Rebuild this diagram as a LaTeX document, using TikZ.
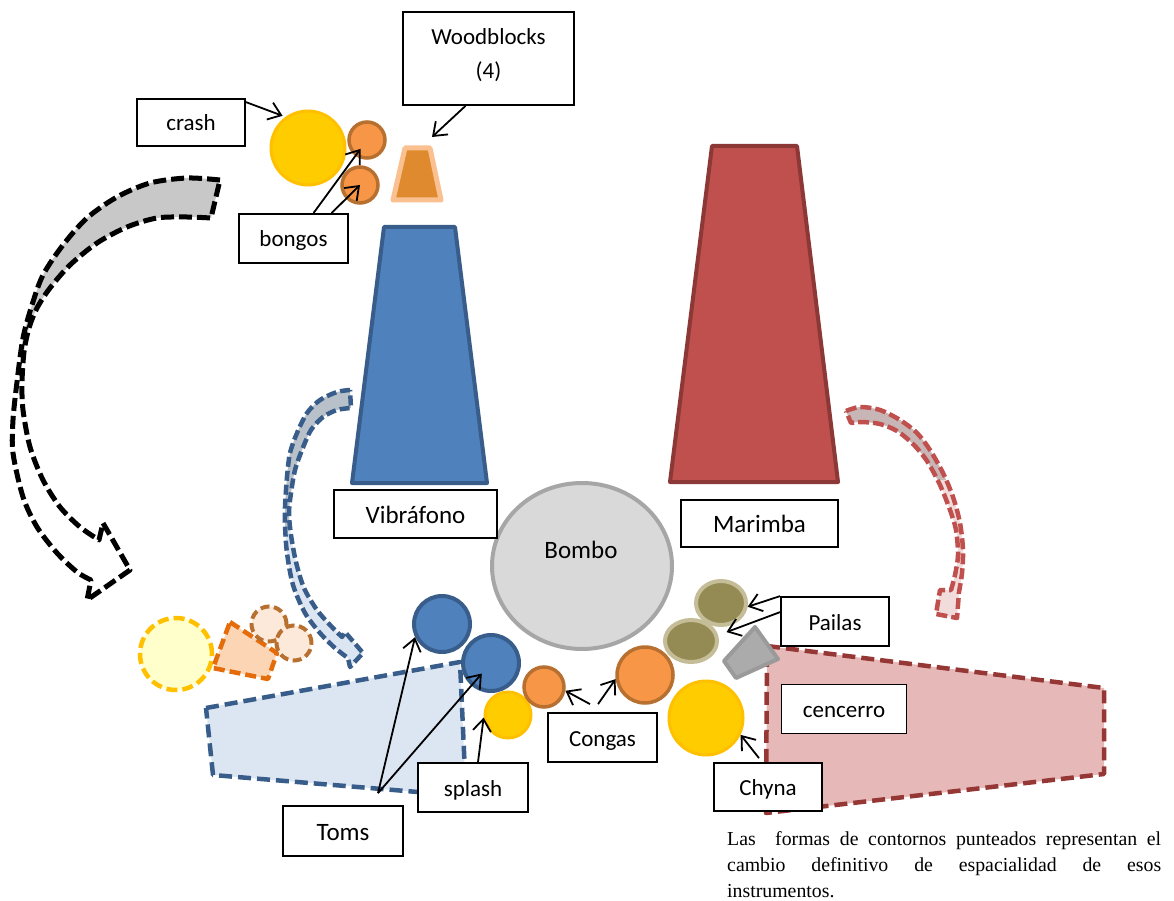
\documentclass[tikz,border=0pt]{standalone}
\usepackage{fontspec}
\setmainfont{Carlito}
\newfontfamily\notefont{Liberation Serif}
\usetikzlibrary{arrows.meta,calc,shapes.geometric}

\definecolor{gold}{HTML}{FFCC00}
\definecolor{goldline}{HTML}{FFC000}
\definecolor{orng}{HTML}{F79646}
\definecolor{orngline}{HTML}{B7702F}
\definecolor{woodfill}{HTML}{DF8A2E}
\definecolor{woodline}{HTML}{FAC090}
\definecolor{vibfill}{HTML}{4F81BD}
\definecolor{vibline}{HTML}{385D8A}
\definecolor{marfill}{HTML}{C0504D}
\definecolor{marline}{HTML}{8C3836}
\definecolor{bombofill}{HTML}{D9D9D9}
\definecolor{bomboline}{HTML}{A6A6A6}
\definecolor{pailafill}{HTML}{948A54}
\definecolor{pailaline}{HTML}{C4BD97}
\definecolor{bellfill}{HTML}{ABABAB}
\definecolor{bellline}{HTML}{9A9A9A}
\definecolor{pinkfill}{HTML}{E6B9B8}
\definecolor{pinkline}{HTML}{953735}
\definecolor{bluepale}{HTML}{DCE6F2}
\definecolor{yellowpale}{HTML}{FFFFCC}
\definecolor{peach}{HTML}{FCD5B5}
\definecolor{peachline}{HTML}{E46C0A}
\definecolor{bisque}{HTML}{FDE9D9}
\definecolor{sweepgray}{HTML}{C8C8C8}
\definecolor{bluegray}{HTML}{B8C0CA}
\definecolor{redgray}{HTML}{C8B6B6}
\definecolor{redpale}{HTML}{F2DCDB}

\newcommand\boxtextsize{\fontsize{23}{28}\selectfont}
\newcommand\bigtextsize{\fontsize{25}{30}\selectfont}

% outlines of the three curved "moved to" arrows
\def\sweepoutline{plot[smooth] coordinates {(220,180) (187,178) (150,183) (117,197) (87,218) (63,245) (43,275) (32,305) (23,338) (17,382) (13,420) (13,453) (23,497) (37,527) (57,553) (77,572) (91,580)} -- (87,600) -- (130,570) -- (103,523) -- (99,540) -- plot[smooth] coordinates {(99,540) (80,527) (60,507) (43,480) (30,447) (23,410) (22,383) (24,352) (29,328) (37,308) (50,288) (70,265) (97,243) (127,227) (157,218) (187,217) (211,218)} -- cycle}
\def\vibsweep{plot[smooth] coordinates {(350,390) (337,392) (320,400) (307,413) (297,433) (290,453) (287,477) (285,507) (285,525) (287,553) (293,585) (305,613) (320,633) (335,648) (348,658)} -- (350,667) -- (363,653) -- (345,632) -- (342,637) -- plot[smooth] coordinates {(342,637) (331,626) (317,610) (304,588) (296,562) (291,535) (289,513) (291,493) (295,470) (302,450) (311,430) (323,417) (337,410) (351,408)} -- cycle}
\def\marsweep{plot[smooth] coordinates {(846,411) (860,407) (880,410) (900,420) (917,433) (930,450) (943,473) (953,497) (960,523) (963,550) (962,573) (959,592)} -- (957,618) -- (936,614) -- (940,590) -- (951,590) -- plot[smooth] coordinates {(951,590) (955,575) (958,555) (956,530) (950,510) (940,485) (927,461) (913,444) (897,431) (880,424) (862,422) (851,423)} -- cycle}

\begin{document}
\begin{tikzpicture}[x=1pt,y=-1pt,
  lbl/.style={draw=black, line width=1.8pt, fill=white, inner sep=0pt,
    font=\boxtextsize, text height=17pt, text depth=0pt},
  biglbl/.style={lbl, font=\bigtextsize, text height=18pt},
  ptr/.style={line width=1.8pt, -{Straight Barb[length=12pt,width=18pt,line width=1.8pt]}},
  instr/.style={circle, inner sep=0pt, line width=3pt},
  goldcym/.style={instr, fill=gold, draw=goldline},
  drum/.style={instr, fill=orng, draw=orngline, line width=3.5pt},
  tom/.style={instr, fill=vibfill, draw=vibline, line width=4pt},
  paila/.style={ellipse, inner sep=0pt, fill=pailafill, draw=pailaline, line width=4pt},
  bar/.style={line width=4pt, line join=round},
  area/.style={line width=4.5pt, line join=round, dash pattern=on 13pt off 6pt},
  ghost/.style={line width=4.5pt, dash pattern=on 11pt off 5pt}
]
\useasboundingbox (0,0) rectangle (1174,901);

% new positions (dashed areas)
\draw[area, fill=bluepale, draw=vibline] (206,708) -- (460,662) -- (466,796) -- (213,775) -- cycle;
\draw[area, fill=pinkfill, draw=pinkline] (767,646) -- (1104,688) -- (1104,774) -- (766,813) -- cycle;

\node[circle, inner sep=0pt, minimum size=72pt, ghost, fill=yellowpale, draw=goldline] (crashnew) at (176,654) {};
\draw[ghost, fill=peach, draw=peachline, line join=round] (230,622) -- (277,653) -- (268,679) -- (213,668) -- cycle;
\node[circle, inner sep=0pt, minimum size=35pt, ghost, line width=4pt, dash pattern=on 9pt off 4.5pt, fill=bisque, draw=orngline] (bongonewA) at (269,624) {};
\node[circle, inner sep=0pt, minimum size=35pt, ghost, line width=4pt, dash pattern=on 9pt off 4.5pt, fill=bisque, draw=orngline] (bongonewB) at (294,643) {};

% curved arrows
\begin{scope}
  \clip (0,150) rectangle (240,350);
  \fill[sweepgray] \sweepoutline;
\end{scope}
\draw[line width=5pt, dash pattern=on 13pt off 5pt, line join=round] \sweepoutline;

\begin{scope}
  \clip (260,370) rectangle (380,530);
  \fill[bluegray] \vibsweep;
\end{scope}
\begin{scope}
  \clip (260,530) rectangle (380,690);
  \fill[bluepale] \vibsweep;
\end{scope}
\draw[line width=4.5pt, dash pattern=on 10pt off 4pt, draw=vibline, line join=round] \vibsweep;

\begin{scope}
  \clip (830,390) rectangle (990,480);
  \fill[redgray] \marsweep;
\end{scope}
\begin{scope}
  \clip (830,480) rectangle (990,640);
  \fill[redpale] \marsweep;
\end{scope}
\draw[line width=4.5pt, dash pattern=on 11pt off 4pt, draw=marfill, line join=round] \marsweep;

% keyboards and woodblocks
\draw[bar, fill=vibfill, draw=vibline] (384,227) -- (455,227) -- (487,483) -- (352,483) -- cycle;
\draw[bar, fill=marfill, draw=marline] (712,146) -- (797,146) -- (838,482) -- (670,482) -- cycle;
\draw[line width=5pt, line join=round, fill=woodfill, draw=woodline] (405,148) -- (430,148) -- (441,200) -- (393,200) -- cycle;
\coordinate (wbtip) at (432,137);

% instruments
\node[goldcym, minimum size=74pt] (crashc) at (308,148) {};
\node[drum, minimum size=36pt] (bongoA) at (367,140) {};
\node[drum, minimum size=36pt] (bongoB) at (360,185) {};

\node[ellipse, inner sep=0pt, minimum width=180pt, minimum height=166pt, fill=bombofill, draw=bomboline, line width=4pt] (bombo) at (582,566) {};
\node[font=\bigtextsize, anchor=base] (bombotext) at (581,558) {Bombo};

\node[tom, minimum size=56pt] (tom1) at (442,624) {};
\node[tom, minimum size=56pt] (tom2) at (491,663) {};
\node[goldcym, minimum size=46pt] (splashc) at (508,715) {};
\node[drum, minimum size=40pt] (congaA) at (544,687) {};
\node[drum, minimum size=56pt] (congaB) at (645,675) {};
\node[paila, minimum width=50pt, minimum height=44pt] (paila1) at (721,603) {};
\node[paila, minimum width=52pt, minimum height=42pt] (paila2) at (691,641) {};
\draw[line width=4pt, line join=round, fill=bellfill, draw=bellline] (724,661) -- (755,627) -- (778,659) -- (736,678) -- cycle;
\node[goldcym, minimum size=74pt] (chynac) at (706,718) {};

% labels
\node[lbl, minimum width=108pt, minimum height=47pt] (crashbox) at (191,122.5) {crash};
\node[lbl, minimum width=109pt, minimum height=49pt] (bongobox) at (293.5,238.5) {bongos};
\node[lbl, minimum width=171pt, minimum height=93pt] (woodbox) at (488.5,58.5) {};
\node[align=center, font=\fontsize{23}{34}\selectfont, inner sep=0pt] (woodtext) at (488.5,55.5) {Woodblocks\\(4)};
\node[biglbl, minimum width=163pt, minimum height=48pt] (vibbox) at (415.5,514) {Vibráfono};
\node[biglbl, minimum width=157pt, minimum height=47pt] (marbox) at (759.5,523.5) {Marimba};
\node[lbl, minimum width=108pt, minimum height=49pt] (pailasbox) at (835,621.5) {Pailas};
\node[lbl, minimum width=125pt, minimum height=49pt] (bellbox) at (844,709) {cencerro};
\node[lbl, minimum width=108pt, minimum height=48pt] (chynabox) at (768,787) {Chyna};
\node[lbl, minimum width=109pt, minimum height=49pt] (congasbox) at (602.5,737.5) {Congas};
\node[lbl, minimum width=110pt, minimum height=49pt] (splashbox) at (473,787.5) {splash};
\node[biglbl, minimum width=120pt, minimum height=50pt] (tomsbox) at (343,831) {Toms};

% pointers
\draw[ptr, shorten >=3pt] ([yshift=-4pt]crashbox.north east) -- (crashc.126);
\draw[ptr, shorten >=11pt] ([xshift=20pt]bongobox.north) -- (bongoA.center);
\draw[ptr] ([xshift=38pt]bongobox.north) -- (bongoB.center);
\draw[ptr] ([xshift=-23pt]woodbox.south) -- (wbtip);
\coordinate (tomsfork) at ([xshift=35pt,yshift=12pt]tomsbox.north);
\draw[ptr] (tomsfork) -- (tom1.206);
\draw[ptr, shorten >=14pt] (tomsfork) -- (tom2.center);
\draw[ptr] ([xshift=5pt]splashbox.north) -- (splashc.186);
\draw[ptr] ([xshift=-12.5pt,yshift=8pt]congasbox.north) -- (congaA.350);
\draw[ptr] ([xshift=-4.5pt,yshift=8pt]congasbox.north) -- (congaB.188);
\draw[ptr] (pailasbox.north west) -- (paila1.352);
\draw[ptr, shorten >=9pt] ([yshift=-16pt]pailasbox.north west) -- (paila2.12);
\draw[ptr] ([xshift=-9pt,yshift=4pt]chynabox.north) -- (chynac.334);

% note
\node[anchor=base west, inner sep=0pt, text width=434pt, align=justify,
  font=\notefont\fontsize{19.8}{26.3}\selectfont] (note) at (727,845)
  {Las\ \ formas de contornos punteados representan el\linebreak cambio definitivo de espacialidad de esos\linebreak instrumentos.};
\end{tikzpicture}
\end{document}
